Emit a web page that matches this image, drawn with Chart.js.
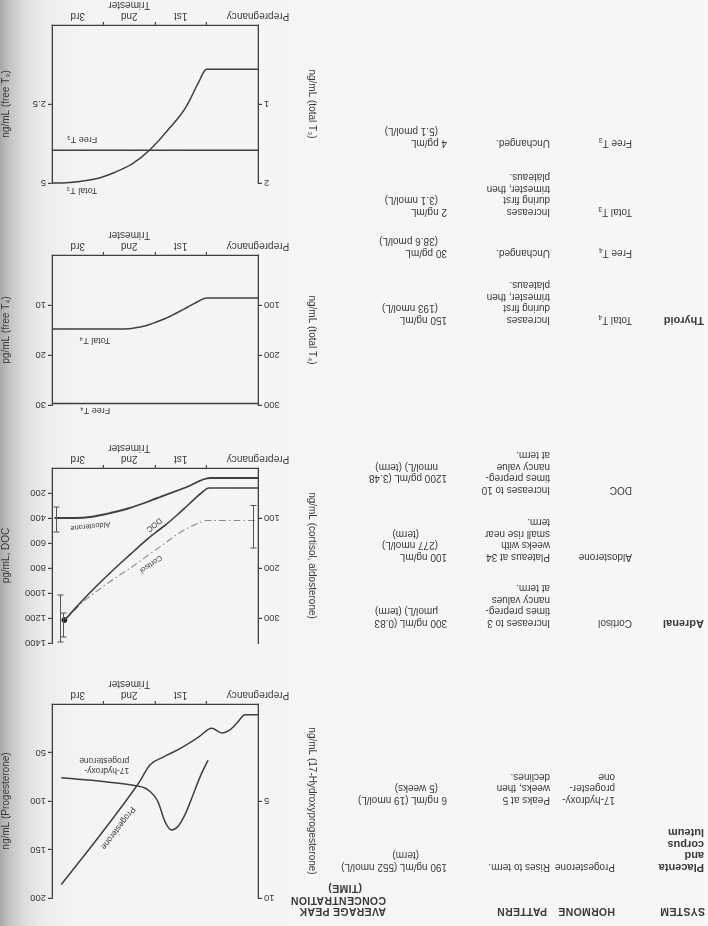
<!DOCTYPE html>
<html><head><meta charset="utf-8">
<script src="https://cdn.jsdelivr.net/npm/chart.js@4.4.1/dist/chart.umd.min.js"></script>
<style>
html,body{margin:0;padding:0;}
body{width:708px;height:926px;overflow:hidden;position:relative;
 background:linear-gradient(to right,#a9a9a9 0px,#c4c4c4 10px,#dcdcdc 24px,#ececec 42px,#f4f4f4 80px,#f7f7f7 100%);}
#page{position:absolute;left:0;top:0;width:708px;height:926px;transform:rotate(180deg);transform-origin:354px 463px;
 font-family:"Liberation Sans",Arial,sans-serif;color:#3a3a3a;}
.t{position:absolute;font-size:10px;line-height:11px;white-space:nowrap;}
.h{font-weight:bold;font-size:10.5px;letter-spacing:0.3px;}
.s{font-weight:bold;font-size:11px;}
sub{font-size:7px;vertical-align:-2px;line-height:0;}
canvas{position:absolute;}
</style></head><body><div id="page"></div>
<script>
// ---------------- table data ----------------
const headers = ['SYSTEM', 'HORMONE', 'PATTERN', 'AVERAGE PEAK\nCONCENTRATION\n(TIME)'];
const systems = ['Placenta\nand\ncorpus\nluteum', 'Adrenal', 'Thyroid'];
const hormones = ['Progesterone', '17-hydroxy-\nprogester-\none', 'Cortisol', 'Aldosterone', 'DOC',
  'Total T_4', 'Free T_4', 'Total T_3', 'Free T_3'];
const patterns = ['Rises to term.', 'Peaks at 5\nweeks, then\ndeclines.',
  'Increases to 3\ntimes prepreg-\nnancy values\nat term.',
  'Plateaus at 34\nweeks with\nsmall rise near\nterm.',
  'Increases to 10\ntimes prepreg-\nnancy value\nat term.',
  'Increases\nduring first\ntrimester, then\nplateaus.', 'Unchanged.',
  'Increases\nduring first\ntrimester, then\nplateaus.', 'Unchanged.'];
const peaks = ['190 ng/mL (552 nmol/L)\n(term)', '6 ng/mL (19 nmol/L)\n(5 weeks)',
  '300 ng/mL (0.83\nμmol/L) (term)', '100 ng/mL\n(277 nmol/L)\n(term)',
  '\n1200 pg/mL (3.48\nnmol/L) (term)', '150 ng/mL\n(193 nmol/L)', '30 pg/mL\n(38.6 pmol/L)',
  '2 ng/mL\n(3.1 nmol/L)', '4 pg/mL\n(5.1 pmol/L)'];

// ---------------- chart data ----------------
const trimesterTickValues = [0, 1, 1.5, 2, 2.5, 3, 3.5];
const trimesterLabels = {0: 'Prepregnancy', 1.5: '1st', 2.5: ['2nd', 'Trimester'], 3.5: '3rd'};

// Thyroid T3
const t3TotalX = [0, 1.0, 1.15, 1.4, 1.75, 2.1, 2.45, 2.8, 3.1, 3.45, 3.8, 4.0];
const t3TotalY = [0.56, 0.56, 0.72, 1.04, 1.33, 1.58, 1.76, 1.87, 1.94, 1.98, 2.0, 2.0];
const t3FreeX = [0, 4];
const t3FreeY = [3.96, 3.96];
const t3TotalTicks = [1, 2];
const t3FreeTicks = [2.5, 5];

// Thyroid T4
const t4TotalX = [0, 1.0, 1.2, 1.4, 1.6, 1.8, 2.0, 2.2, 2.4, 2.6, 4.0];
const t4TotalY = [86, 86, 95, 106, 117, 127, 135, 142, 146, 148, 148];
const t4FreeX = [0, 4];
const t4FreeY = [29.7, 29.7];
const t4TotalTicks = [100, 200, 300];
const t4FreeTicks = [10, 20, 30];

// Adrenal
const aldoX = [0, 0.93, 1.38, 1.9, 2.43, 2.87, 3.26, 3.55, 3.95];
const aldoY = [20, 20, 38, 58, 78, 90, 98, 100, 100];
const docX = [0, 0.95, 1.1, 1.4, 1.75, 2.1, 2.45, 2.75, 3.0, 3.27, 3.5, 3.75];
const docY = [160, 160, 200, 312, 440, 552, 680, 792, 890, 1000, 1100, 1216];
const cortX = [0.06, 1.0, 1.15, 1.5, 1.8, 2.1, 2.45, 2.8, 3.1, 3.4, 3.6, 3.75];
const cortY = [105, 105, 110, 128, 150, 172, 198, 222, 244, 268, 288, 302];
const errX = [0.08, 3.9, 3.83, 3.76];
const errLo = [75, 78, 254, 290];
const errHi = [160, 128, 348, 338];
const termDotX = [3.76];
const termDotY = [304];
const adrenalNgTicks = [100, 200, 300];
const adrenalDocTicks = [200, 400, 600, 800, 1000, 1200, 1400];

// Placenta
const progX = [0, 0.25, 0.4, 0.55, 0.7, 0.9, 1.15, 1.55, 1.85, 2.1, 2.3, 3.05, 3.82];
const progY = [11, 11, 19, 27, 30, 25, 34, 47, 55, 63, 80, 134, 186];
const ohpX = [0.97, 1.1, 1.25, 1.4, 1.55, 1.68, 1.8, 1.95, 2.15, 2.4, 3.0, 3.82];
const ohpY = [2.9, 3.6, 4.6, 5.6, 6.3, 6.5, 6.1, 5.0, 4.4, 4.2, 4.0, 3.8];
const ohpTicks = [5, 10];
const progTicks = [50, 100, 150, 200];

// ---------------- table rendering ----------------
const page = document.getElementById('page');
const LH = 11.5;
function sub(s){ return s.replace(/T_(\d)/g, 'T<sub>$1</sub>'); }
function addLines(u, top, text, cls, indentFn){
  const lines = text.split('\n');
  let first = true;
  lines.forEach((ln, i) => {
    if (!ln) return;
    const d = document.createElement('div');
    d.className = 't ' + (cls || '');
    const ind = indentFn ? indentFn(ln, first) : 0;
    d.style.left = (u + ind) + 'px';
    d.style.top = (top + i * LH) + 'px';
    d.innerHTML = sub(ln);
    page.appendChild(d);
    first = false;
  });
}
const colU = {sys: 4, horm: 76, hormFirst: 93, patt: 158, peak: 261};
const headerTop = 8.5;
addLines(3, headerTop, headers[0], 'h');
addLines(93, headerTop, headers[1], 'h');
addLines(161, headerTop, headers[2], 'h');
headers[3].split('\n').forEach((ln, i) => {
  const d = document.createElement('div');
  d.className = 't h';
  d.style.left = '322px'; d.style.width = '82px'; d.style.textAlign = 'center';
  d.style.top = (headerTop + i * LH) + 'px';
  d.textContent = ln; page.appendChild(d);
});
const rowTop = [53, 120, 297, 363, 430, 600, 667, 708, 777];
const systemRow = [0, 2, 5];
systems.forEach((s, i) => addLines(colU.sys, rowTop[systemRow[i]], s, 's'));
hormones.forEach((h, i) => addLines(i < 2 ? colU.hormFirst : colU.horm, rowTop[i], h));
patterns.forEach((p, i) => addLines(colU.patt, rowTop[i], p));
peaks.forEach((p, i) => addLines(colU.peak, rowTop[i], p, '',
  (ln, first) => first ? 0 : (ln === '(term)' ? 28 : 9)));

// ---------------- charts ----------------
const INK = '#3f3f3f';
const pts = (xs, ys) => xs.map((x, i) => ({x: x, y: ys[i]}));

const annotate = {
  id: 'annotate',
  afterDatasetsDraw(chart) {
    const o = chart.$ann; if (!o) return;
    const ctx = chart.ctx, sx = chart.scales.x;
    ctx.save();
    (o.bars || []).forEach(b => {
      const sy = chart.scales[b.axis];
      const px = Math.round(sx.getPixelForValue(b.x)) + 0.5;
      const p1 = sy.getPixelForValue(b.lo), p2 = sy.getPixelForValue(b.hi);
      ctx.strokeStyle = '#555'; ctx.lineWidth = 1;
      ctx.beginPath();
      ctx.moveTo(px, p1); ctx.lineTo(px, p2);
      ctx.moveTo(px - 3, p1); ctx.lineTo(px + 3, p1);
      ctx.moveTo(px - 3, p2); ctx.lineTo(px + 3, p2);
      ctx.stroke();
    });
    (o.labels || []).forEach(l => {
      const sy = chart.scales[l.axis];
      const px = sx.getPixelForValue(l.x), py = sy.getPixelForValue(l.y);
      ctx.save();
      ctx.translate(px, py);
      ctx.rotate((l.rot || 0) * Math.PI / 180);
      ctx.font = (l.size || 9) + 'px "Liberation Sans", Arial, sans-serif';
      ctx.fillStyle = '#3a3a3a';
      ctx.textAlign = l.align || 'left';
      ctx.textBaseline = 'middle';
      const lines = l.text.split('\n');
      lines.forEach((t, i) => ctx.fillText(t, 0, i * (l.size || 9) * 1.15));
      ctx.restore();
    });
    ctx.restore();
  }
};

function yAxis(pos, min, max, tickList, title, width) {
  return {
    type: 'linear', position: pos, min: min, max: max,
    afterFit: s => { s.width = width; },
    afterBuildTicks: s => { s.ticks = tickList.map(v => ({value: v})); },
    ticks: {color: '#3a3a3a', font: {size: 9.5, family: '"Liberation Sans", Arial'}, padding: 2,
      callback: v => String(v)},
    grid: {drawOnChartArea: false, drawTicks: true, tickLength: 4, color: INK, lineWidth: 1.2},
    border: {display: true, color: INK, width: 1.3},
    title: {display: true, text: title, color: '#3a3a3a', padding: {top: 0, bottom: 2},
      font: {size: 10, family: '"Liberation Sans", Arial'}}
  };
}
function xAxis(h) {
  return {
    type: 'linear', position: 'bottom', min: 0, max: 4,
    afterFit: s => { s.height = h; },
    afterBuildTicks: s => { s.ticks = trimesterTickValues.map(v => ({value: v})); },
    ticks: {autoSkip: false, maxRotation: 0, padding: 1, color: '#3a3a3a',
      font: {size: 10, family: '"Liberation Sans", Arial', lineHeight: 1.1},
      callback: v => (trimesterLabels[v] !== undefined ? trimesterLabels[v] : '')},
    grid: {drawOnChartArea: false, drawTicks: true, tickLength: 3, lineWidth: 1.2,
      color: c => (c.tick && Number.isInteger(c.tick.value) && c.tick.value > 0) ? INK : 'rgba(0,0,0,0)'},
    border: {display: true, color: INK, width: 1.3}
  };
}
function line(data, axis, extra) {
  return Object.assign({type: 'line', data: data, yAxisID: axis, borderColor: INK, borderWidth: 1.5,
    pointRadius: 0, fill: false, cubicInterpolationMode: 'monotone', clip: 8}, extra || {});
}
const PAD = 14, CANVAS_LEFT = 390, CANVAS_W = 318;
function makeChart(g, datasets, yL, yR, ann) {
  const top = g.plotTop - PAD;
  const h = g.plotBottom - top + g.xH;
  const c = document.createElement('canvas');
  c.width = CANVAS_W; c.height = h;
  c.style.left = CANVAS_LEFT + 'px'; c.style.top = top + 'px';
  c.style.width = CANVAS_W + 'px'; c.style.height = h + 'px';
  page.appendChild(c);
  return new Chart(c, {
    data: {datasets: datasets},
    options: {
      responsive: false, animation: false,
      layout: {padding: {top: PAD, left: 0, right: 0, bottom: 0}},
      plugins: {legend: {display: false}, tooltip: {enabled: false}},
      scales: {x: xAxis(g.xH), yL: yL, yR: yR}
    },
    plugins: [{id: 'pre', beforeDraw(chart) { chart.$ann = ann; }}, annotate]
  });
}

// Chart 1: T3
makeChart({plotTop: 743, plotBottom: 901, xH: 25},
  [line(pts(t3TotalX, t3TotalY), 'yL'), line(pts(t3FreeX, t3FreeY), 'yR', {cubicInterpolationMode: 'default', tension: 0})],
  yAxis('left', 0, 2, t3TotalTicks, 'ng/mL (total T₃)', 60),
  yAxis('right', 0, 5, t3FreeTicks, 'ng/mL (free T₃)', 52),
  {labels: [
    {text: 'Total T₃', x: 3.12, y: 2.09, axis: 'yL'},
    {text: 'Free T₃', x: 3.12, y: 3.62, axis: 'yR'}
  ]});

// Chart 2: T4
makeChart({plotTop: 521, plotBottom: 671, xH: 28},
  [line(pts(t4TotalX, t4TotalY), 'yL'), line(pts(t4FreeX, t4FreeY), 'yR', {cubicInterpolationMode: 'default', tension: 0})],
  yAxis('left', 0, 300, t4TotalTicks, 'ng/mL (total T₄)', 60),
  yAxis('right', 0, 30, t4FreeTicks, 'pg/mL (free T₄)', 52),
  {labels: [
    {text: 'Total T₄', x: 2.87, y: 170, axis: 'yL'},
    {text: 'Free T₄', x: 2.87, y: 31.1, axis: 'yR'}
  ]});

// Chart 3: Adrenal
makeChart({plotTop: 283, plotBottom: 458, xH: 28},
  [line(pts(aldoX, aldoY), 'yL', {borderWidth: 1.8}),
   line(pts(docX, docY), 'yR', {borderWidth: 1.6}),
   line(pts(cortX, cortY), 'yL', {borderColor: '#8a8a8a', borderWidth: 1.1, borderDash: [7, 3, 1.5, 3]}),
   {type: 'scatter', data: pts(termDotX, termDotY), yAxisID: 'yL', pointRadius: 2.5,
    pointBackgroundColor: '#222', pointBorderColor: '#222', showLine: false}],
  yAxis('left', 0, 350, adrenalNgTicks, 'ng/mL (cortisol, aldosterone)', 60),
  yAxis('right', 0, 1400, adrenalDocTicks, 'pg/mL, DOC', 52),
  {bars: errX.map((x, i) => ({x: x, lo: errLo[i], hi: errHi[i], axis: 'yL'})),
   labels: [
    {text: 'Aldosterone', x: 2.87, y: 112, axis: 'yL', size: 7.5, rot: -6},
    {text: 'DOC', x: 2.02, y: 455, axis: 'yR', size: 8, rot: -39, align: 'center'},
    {text: 'Cortisol', x: 2.08, y: 192, axis: 'yL', size: 7.5, rot: -35, align: 'center'}
  ]});

// Chart 4: Progesterone
makeChart({plotTop: 28, plotBottom: 222, xH: 28},
  [line(pts(progX, progY), 'yR'), line(pts(ohpX, ohpY), 'yL')],
  yAxis('left', 0, 10, ohpTicks, 'ng/mL (17-Hydroxyprogesterone)', 60),
  yAxis('right', 0, 200, progTicks, 'ng/mL (Progesterone)', 52),
  {labels: [
    {text: '17-hydroxy-\nprogesterone', x: 2.5, y: 3.4, axis: 'yL', size: 8.5},
    {text: 'Progesterone', x: 2.72, y: 128, axis: 'yR', size: 8.5, rot: -53, align: 'center'}
  ]});
</script></body></html>
